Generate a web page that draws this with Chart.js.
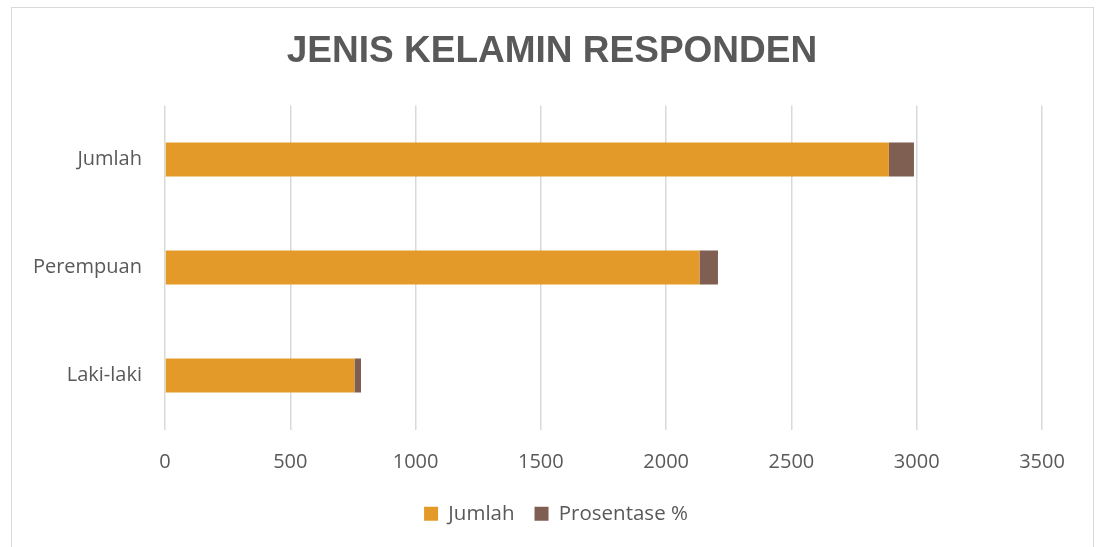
<!DOCTYPE html>
<html>
<head>
<meta charset="utf-8">
<script src="https://cdn.jsdelivr.net/npm/chart.js@4.4.0/dist/chart.umd.min.js"></script>
<style>
html,body{margin:0;padding:0;background:#fff;}
#wrap{width:1100px;height:547px;position:relative;}
</style>
</head>
<body>
<div id="wrap"><canvas id="c" width="1100" height="547"></canvas></div>
<script>
const categories = ["Jumlah", "Perempuan", "Laki-laki"];
const jumlahValues = [2889, 2133, 756];
const prosentaseValues = [100, 73.8, 26.2];
const xTicks = [0, 500, 1000, 1500, 2000, 2500, 3000, 3500];
const seriesNames = ["Jumlah", "Prosentase %"];
const titleText = "JENIS KELAMIN RESPONDEN";

const borderPlugin = {
  id: 'outerBorder',
  beforeDraw(chart) {
    const ctx = chart.ctx;
    ctx.save();
    ctx.fillStyle = '#ffffff';
    ctx.fillRect(0, 0, chart.width, chart.height);
    ctx.strokeStyle = '#d9d9d9';
    ctx.lineWidth = 1;
    ctx.strokeRect(11.5, 7.5, 1082, 560);
    ctx.restore();
  },
  afterLayout(chart) {
    if (chart.titleBlock) { chart.titleBlock.left = 11; chart.titleBlock.right = 1093; }
    if (chart.legend) {
      chart.legend.left = 11; chart.legend.right = 1101;
      chart.legend.top -= 12; chart.legend.bottom -= 12;
    }
  }
};

new Chart(document.getElementById('c'), {
  type: 'bar',
  data: {
    labels: categories,
    datasets: [
      { label: seriesNames[0], data: jumlahValues, backgroundColor: '#E39A28', borderWidth: 0 },
      { label: seriesNames[1], data: prosentaseValues, backgroundColor: '#7F5F52', borderWidth: 0 }
    ]
  },
  options: {
    indexAxis: 'y',
    responsive: false,
    animation: false,
    layout: { padding: { left: 11, right: 58, top: 30, bottom: 1 } },
    categoryPercentage: 1,
    barPercentage: 0.315,
    plugins: {
      title: {
        display: true,
        text: titleText,
        color: '#595959',
        font: { family: 'Liberation Sans', size: 37, weight: 'bold' },
        padding: { top: 0, bottom: 31 }
      },
      legend: {
        position: 'bottom',
        labels: {
          color: '#595959',
          font: { family: 'Open Sans', size: 20.5 },
          boxWidth: 14,
          boxHeight: 14,
          padding: 20
        }
      },
      tooltip: { enabled: false }
    },
    scales: {
      x: {
        stacked: true,
        min: 0,
        max: 3500,
        afterBuildTicks(scale) { scale.ticks = xTicks.map(v => ({ value: v })); },
        grid: { color: '#d9d9d9', lineWidth: 1.5, drawTicks: false },
        border: { display: false },
        ticks: {
          color: '#595959', font: { family: 'Open Sans', size: 20 }, padding: 21, maxRotation: 0,
          callback: (v) => String(v)
        }
      },
      y: {
        stacked: true,
        grid: { display: false },
        border: { display: false },
        ticks: { color: '#595959', font: { family: 'Open Sans', size: 20 }, padding: 15 },
        afterFit(scale) { scale.width = 154; }
      }
    }
  },
  plugins: [borderPlugin]
});
</script>
</body>
</html>
